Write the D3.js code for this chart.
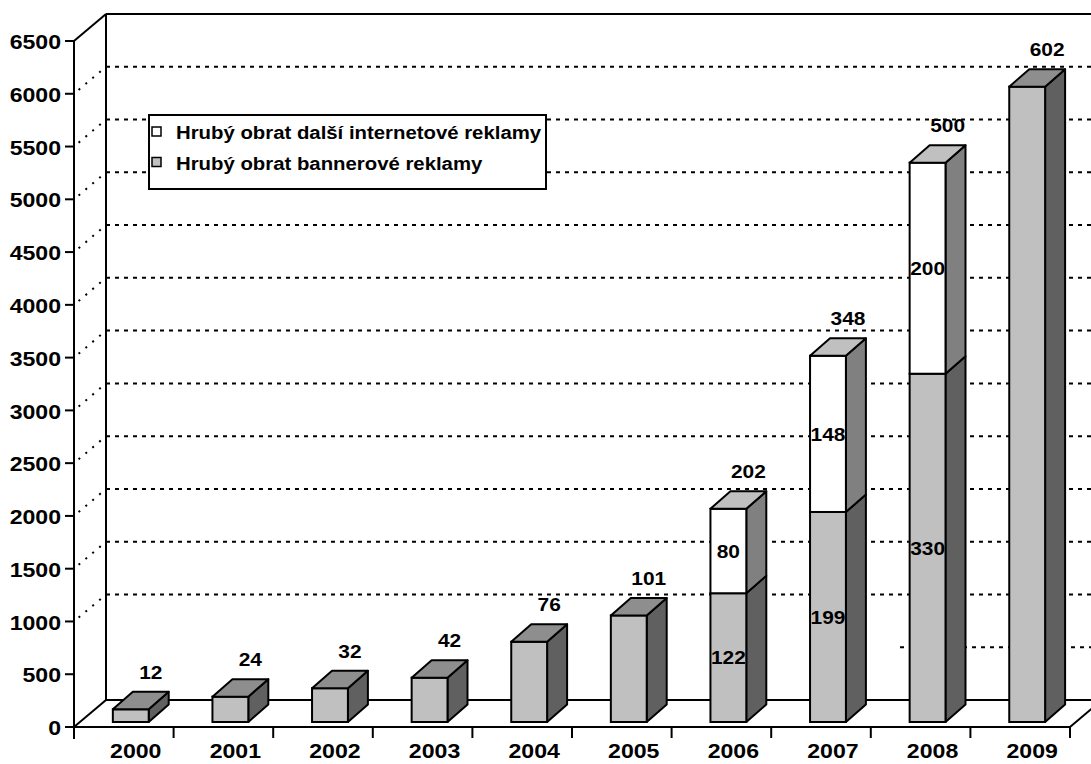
<!DOCTYPE html>
<html>
<head>
<meta charset="utf-8">
<script src="https://cdn.jsdelivr.net/npm/d3@7"></script>
<style>
  body { margin: 0; background: #fff; }
  text { font-family: "Liberation Sans", Arial, sans-serif; font-weight: bold; fill: #000; }
</style>
</head>
<body>
<svg id="chart" width="1091" height="764"></svg>
<script>
// data (bar labels are in tens of axis units)
const years = ['2000', '2001', '2002', '2003', '2004', '2005', '2006', '2007', '2008', '2009'];
const banner = [12, 24, 32, 42, 76, 101, 122, 199, 330, 602];   // Hrubý obrat bannerové reklamy
const other = [0, 0, 0, 0, 0, 0, 80, 148, 200, 0];             // Hrubý obrat další internetové reklamy
const totalLabels = ['12', '24', '32', '42', '76', '101', '202', '348', '500', '602'];
const yTicks = d3.range(0, 6501, 500);
const gridValues = d3.range(1000, 6001, 500);
const legendItems = [
  { name: 'Hrubý obrat další internetové reklamy', fill: '#ffffff' },
  { name: 'Hrubý obrat bannerové reklamy', fill: '#c0c0c0' }
];
const UNIT = 10;

const svg = d3.select('#chart');

// 3D frame
const DX = 32, DY = -27;         // depth of the floor / back wall
const BX = 20, BY = -17.5;       // depth of one bar
const SHIFT_Y = -5;              // bars stand a bit behind the front edge
const STRETCH = 1.1;

const x = d3.scaleBand().domain(years).range([74, 1070]).padding(0);
const y = d3.scaleLinear().domain([0, 6500]).range([727, 41]);
const bw = x.bandwidth();

// text with the slightly wide look of the original
function label (g, px, py, str, size, anchor, baseline) {
  return g.append('text')
    .attr('transform', `translate(${px},${py}) scale(${STRETCH},1)`)
    .attr('text-anchor', anchor || 'middle')
    .attr('dominant-baseline', baseline || 'alphabetic')
    .style('font-size', size + 'px')
    .text(str);
}

const frame = svg.append('g');

// back wall: grid lines
frame.selectAll('line.grid')
  .data(gridValues)
  .join('line')
  .attr('class', 'grid')
  .attr('x1', 74 + DX).attr('x2', 1091)
  .attr('y1', d => y(d) + DY).attr('y2', d => y(d) + DY)
  .attr('stroke', '#000').attr('stroke-width', 2)
  .attr('stroke-dasharray', '4,5');
// the 500 line only shows on the right
frame.append('line')
  .attr('x1', 900).attr('x2', 1091)
  .attr('y1', y(500) + DY).attr('y2', y(500) + DY)
  .attr('stroke', '#000').attr('stroke-width', 2)
  .attr('stroke-dasharray', '4,5');

// side wall: dotted diagonals
frame.selectAll('line.diag')
  .data(gridValues)
  .join('line')
  .attr('class', 'diag')
  .attr('x1', 74).attr('y1', d => y(d))
  .attr('x2', 74 + DX).attr('y2', d => y(d) + DY)
  .attr('stroke', '#000').attr('stroke-width', 2)
  .attr('stroke-dasharray', '2,7')
  .attr('stroke-dashoffset', -6);

// solid frame edges
const edges = [
  [74, y(6500), 74 + DX, y(6500) + DY],
  [74 + DX, y(6500) + DY, 1091, y(6500) + DY],
  [74 + DX, y(6500) + DY, 74 + DX, y(0) + DY],
  [74 + DX, y(0) + DY, 1091, y(0) + DY],
  [74, y(0), 74 + DX, y(0) + DY],
  [74, y(0), 1070, y(0)],
  [1070, y(0), 1070 + DX, y(0) + DY],
  [74, y(6500), 74, y(0) + 12]
];
frame.selectAll('line.edge')
  .data(edges)
  .join('line')
  .attr('class', 'edge')
  .attr('x1', d => d[0]).attr('y1', d => d[1])
  .attr('x2', d => d[2]).attr('y2', d => d[3])
  .attr('stroke', '#000').attr('stroke-width', 2);

// y axis ticks + labels
frame.selectAll('line.ytick')
  .data(yTicks)
  .join('line')
  .attr('class', 'ytick')
  .attr('x1', 65).attr('x2', 74)
  .attr('y1', d => y(d)).attr('y2', d => y(d))
  .attr('stroke', '#000').attr('stroke-width', 2);
yTicks.forEach(t => label(frame, 61, y(t) + 1, t, 21, 'end', 'central'));

// x axis ticks + labels
frame.selectAll('line.xtick')
  .data(years)
  .join('line')
  .attr('class', 'xtick')
  .attr('x1', (d, i) => 74 + (i + 1) * bw).attr('x2', (d, i) => 74 + (i + 1) * bw)
  .attr('y1', y(0)).attr('y2', y(0) + 11)
  .attr('stroke', '#000').attr('stroke-width', 2);
years.forEach(yr => label(frame, x(yr) + bw * 0.62, 758, yr, 21));

// bars
const bars = svg.append('g');
const yb = v => y(v * UNIT) + SHIFT_Y;

function prism (g, left, w, top, bottom, colors, withTop) {
  // side
  g.append('path')
    .attr('d', `M${left + w},${bottom} L${left + w + BX},${bottom + BY} L${left + w + BX},${top + BY} L${left + w},${top} Z`)
    .attr('fill', colors.side).attr('stroke', '#000').attr('stroke-width', 2).attr('stroke-linejoin', 'round');
  // front
  g.append('rect')
    .attr('x', left).attr('y', top).attr('width', w).attr('height', bottom - top)
    .attr('fill', colors.front).attr('stroke', '#000').attr('stroke-width', 2);
  if (withTop) {
    g.append('path')
      .attr('d', `M${left},${top} L${left + BX},${top + BY} L${left + w + BX},${top + BY} L${left + w},${top} Z`)
      .attr('fill', colors.top).attr('stroke', '#000').attr('stroke-width', 2).attr('stroke-linejoin', 'round');
  }
}

const grayCol = { front: '#c0c0c0', side: '#606060', top: '#8e8e8e' };
const whiteCol = { front: '#ffffff', side: '#808080', top: '#c0c0c0' };

years.forEach((yr, i) => {
  const g = bars.append('g');
  const left = x(yr) + bw * 0.39; // front face left
  const w = bw * 0.36;
  const base = yb(0);
  const b = banner[i];
  const o = other[i];
  prism(g, left, w, yb(b), base, grayCol, o === 0);
  if (o > 0) {
    prism(g, left, w, yb(b + o), yb(b), whiteCol, true);
    label(g, left + w / 2, (yb(b) + base) / 2, b, 19, 'middle', 'central');
    label(g, left + w / 2, (yb(b + o) + yb(b)) / 2, o, 19, 'middle', 'central');
  }
  label(g, left + w / 2 + BX, yb(b + o) + BY - 13, totalLabels[i], 19);
});

// legend
const legend = svg.append('g');
legend.append('rect')
  .attr('x', 149).attr('y', 115).attr('width', 397).attr('height', 74)
  .attr('fill', '#fff').attr('stroke', '#000').attr('stroke-width', 2);
legendItems.forEach((it, i) => {
  legend.append('rect')
    .attr('x', 152).attr('y', 127 + i * 30.5).attr('width', 9).attr('height', 9)
    .attr('fill', it.fill).attr('stroke', '#000').attr('stroke-width', 1.5);
  label(legend, 176, 139 + i * 30.5, it.name, 18.5, 'start');
});
</script>
</body>
</html>
